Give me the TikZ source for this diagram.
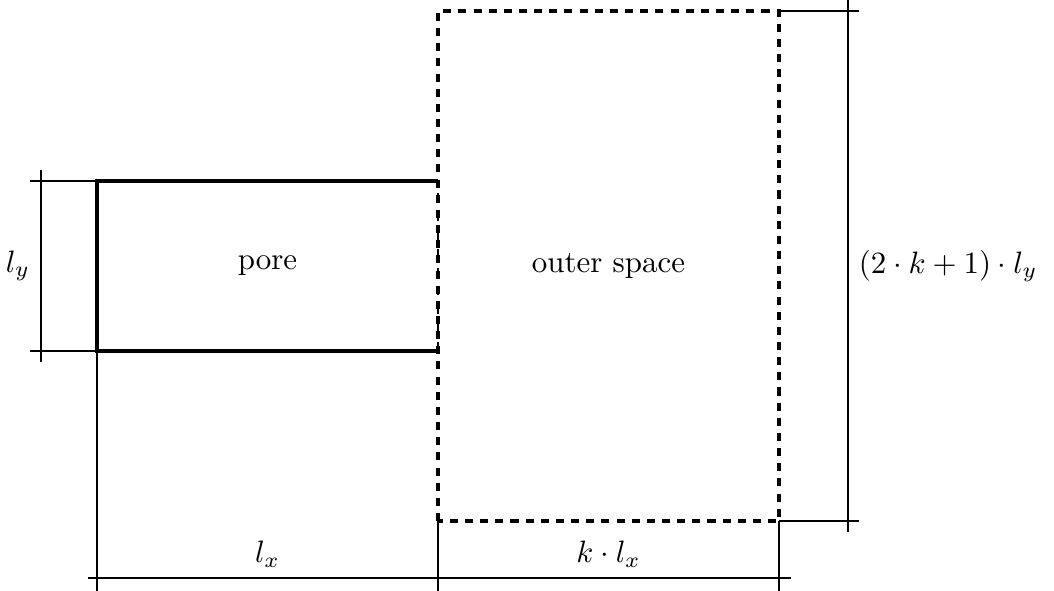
\documentclass[tikz,border=0pt]{standalone}
\begin{document}
\begin{tikzpicture}
        \def\lx{3.875}
        \def\ly{1.932}
        \useasboundingbox (-1.102, -2.716) rectangle (10.875, 3.989);

        % pore and outer space
        \draw[very thick] (\lx, 0) -- (0, 0) -- (0, \ly) -- (\lx, \ly);
        \draw[dashed] (\lx, 0) -- (\lx, \ly);
        \draw[very thick, dash pattern=on 2.6pt off 2.3pt] (\lx, -\ly) rectangle (2*\lx, 2*\ly);

        \path (\lx/2, \ly/2)   node[align=center](pore)  {pore};
        \path (1.5*\lx, \ly/2) node[align=center](outer) {outer space};

        % dimension lines
        \draw (-0.76, 0) -- (0, 0);
        \draw (-0.76, \ly) -- (0, \ly);
        \draw (-0.636, -0.125) -- node[left] (dly) {\(l_y\)} (-0.636, \ly + 0.125);

        \draw (2*\lx, 2*\ly) -- (2*\lx + 0.91, 2*\ly);
        \draw (2*\lx, -\ly) -- (2*\lx + 0.91, -\ly);
        \draw (2*\lx + 0.784, -\ly - 0.125) -- node[right] (dh) {\((2 \cdot k + 1) \cdot l_y\)} (2*\lx + 0.784, 2*\ly + 0.125);

        \draw (0, 0) -- (0, -\ly - 0.8);
        \draw (\lx, -\ly) -- (\lx, -\ly - 0.8);
        \draw (2*\lx, -\ly) -- (2*\lx, -\ly - 0.8);
        \draw (-0.1, -\ly - 0.648) -- (2*\lx + 0.14, -\ly - 0.648);
        \path (\lx/2, -\ly - 0.648)   node[above] (dlx) {\(l_x\)};
        \path (1.5*\lx, -\ly - 0.648) node[above] (dkx) {\(k \cdot l_x\)};
    \end{tikzpicture}
\end{document}
